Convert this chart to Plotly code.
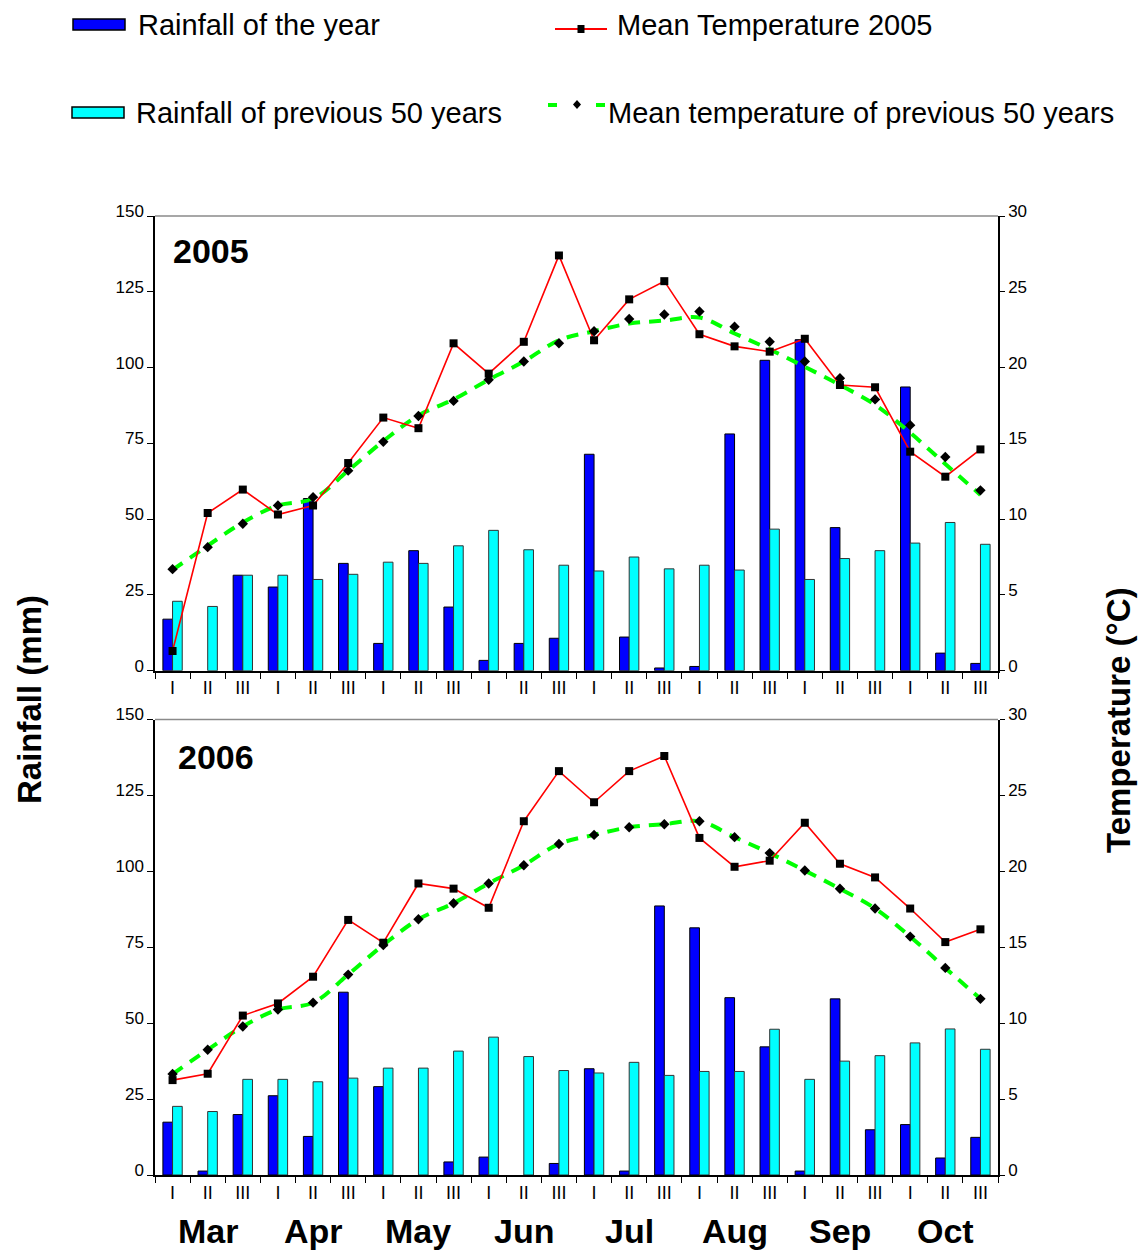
import plotly.graph_objects as go

# ---- categories ---------------------------------------------------------
dekads = ["I", "II", "III"] * 8
months = ["Mar", "Apr", "May", "Jun", "Jul", "Aug", "Sep", "Oct"]

# ---- 2005 season (ten-day periods) -------------------------------------
rain_2005 = [17.0, 0.0, 31.5, 27.6, 56.8, 35.4, 9.0, 39.6, 21.0, 3.4, 9.0, 10.7,
             71.4, 11.1, 0.9, 1.4, 78.1, 102.4, 109.2, 47.2, 0.0, 93.6, 5.8, 2.4]
rain50_2005 = [22.9, 21.2, 31.5, 31.5, 30.1, 31.8, 35.8, 35.4, 41.2, 46.3, 39.9, 34.8,
               32.9, 37.5, 33.6, 34.8, 33.2, 46.7, 30.1, 37.0, 39.6, 42.1, 48.9, 41.7]
temp_2005 = [1.3, 10.4, 11.95, 10.3, 10.9, 13.7, 16.7, 16.0, 21.6, 19.6, 21.7, 27.4,
             21.8, 24.5, 25.7, 22.2, 21.4, 21.05, 21.9, 18.85, 18.7, 14.45, 12.8, 14.6]
tmean50_2005 = [6.7, 8.15, 9.7, 10.9, 11.45, 13.2, 15.1, 16.8, 17.8, 19.2, 20.4, 21.6,
                22.4, 23.2, 23.5, 23.7, 22.7, 21.7, 20.4, 19.3, 17.9, 16.2, 14.1, 11.9]

# ---- 2006 season -------------------------------------------------------
rain_2006 = [17.4, 1.3, 19.9, 26.1, 12.7, 60.2, 29.1, 0.0, 4.3, 5.9, 0.0, 3.8,
             35.0, 1.3, 88.6, 81.4, 58.4, 42.2, 1.3, 58.0, 14.9, 16.6, 5.6, 12.4]
rain50_2006 = [22.6, 20.9, 31.5, 31.5, 30.7, 31.9, 35.2, 35.2, 40.8, 45.4, 39.0, 34.4,
               33.6, 37.1, 32.8, 34.1, 34.1, 48.0, 31.5, 37.5, 39.3, 43.5, 48.1, 41.4]
temp_2006 = [6.25, 6.67, 10.5, 11.3, 13.06, 16.8, 15.3, 19.2, 18.86, 17.6, 23.3, 26.6,
             24.55, 26.6, 27.6, 22.2, 20.3, 20.7, 23.2, 20.5, 19.6, 17.55, 15.34, 16.18]
tmean50_2006 = [6.65, 8.25, 9.78, 10.9, 11.35, 13.2, 15.15, 16.84, 17.9, 19.2, 20.4, 21.8,
                22.4, 22.9, 23.1, 23.3, 22.25, 21.2, 20.05, 18.85, 17.55, 15.7, 13.64, 11.6]

# dashed long-term temperature curve, drawn in both panels
curve50 = tmean50_2006

# ---- styling -----------------------------------------------------------
FONT = "Liberation Sans, Arial, sans-serif"
NARROW = "Liberation Sans Narrow, Arial Narrow, Liberation Sans, Arial, sans-serif"
BLUE, CYAN, RED, GREEN = "#0000FF", "#00FFFF", "#FF0000", "#00FF00"

W, H = 1144, 1257
L, R, T, B = 155, 146, 216, 82
PW, PH = W - L - R, H - T - B


def px(x):
    return (x - L) / PW


def py(y):
    return (H - B - y) / PH


def no_zero(vals):
    # dry periods get no bar at all (not even an outline)
    return [v if v > 0 else None for v in vals]


x = list(range(len(dekads)))
fig = go.Figure()


def add_panel(xa, ya_left, ya_right, rain, rain50, temp, tmean50):
    fig.add_trace(go.Bar(x=x, y=no_zero(rain), xaxis=xa, yaxis=ya_left,
                         marker=dict(color=BLUE, line=dict(color="black", width=1)),
                         showlegend=False))
    fig.add_trace(go.Bar(x=x, y=no_zero(rain50), xaxis=xa, yaxis=ya_left,
                         marker=dict(color=CYAN, line=dict(color="#333333", width=1)),
                         showlegend=False))
    fig.add_trace(go.Scatter(x=x, y=curve50, xaxis=xa, yaxis=ya_right, mode="lines",
                             line=dict(color=GREEN, width=4, dash="12px,9px", shape="spline"),
                             showlegend=False))
    fig.add_trace(go.Scatter(x=x, y=temp, xaxis=xa, yaxis=ya_right, mode="lines+markers",
                             line=dict(color=RED, width=1.6),
                             marker=dict(symbol="square", size=8, color="black"),
                             showlegend=False))
    fig.add_trace(go.Scatter(x=x, y=tmean50, xaxis=xa, yaxis=ya_right, mode="markers",
                             marker=dict(symbol="diamond", size=8, color="black"),
                             showlegend=False))


add_panel("x", "y", "y2", rain_2005, rain50_2005, temp_2005, tmean50_2005)
add_panel("x2", "y3", "y4", rain_2006, rain50_2006, temp_2006, tmean50_2006)

boundaries = [i - 0.5 for i in range(len(dekads) + 1)]
xcommon = dict(range=[-0.5, len(dekads) - 0.5], tickmode="array", tickvals=x,
               ticktext=dekads, ticks="", showline=True, linecolor="black", linewidth=2,
               showgrid=False, zeroline=False, ticklabelstandoff=0,
               tickfont=dict(family=NARROW, size=18, color="black"),
               minor=dict(tickmode="array", tickvals=boundaries, ticks="outside",
                          ticklen=6, tickwidth=1.2, tickcolor="black", showgrid=False))
left_common = dict(range=[0, 150], tickmode="linear", tick0=0, dtick=25, ticks="outside",
                   ticklen=6, tickcolor="black", showline=True, linecolor="black",
                   linewidth=1.5, showgrid=False, zeroline=False, ticklabelshift=-5,
                   tickfont=dict(family=FONT, size=17, color="black"))
right_common = dict(range=[0, 30], tickmode="linear", tick0=0, dtick=5, ticks="outside",
                    ticklen=5, tickcolor="black", showline=True, linecolor="black",
                    linewidth=1.5, showgrid=False, zeroline=False, ticklabelshift=-5,
                    side="right", tickfont=dict(family=FONT, size=17, color="black"))
inner_right = dict(range=[0, 30], tickmode="linear", tick0=0, dtick=5, ticks="inside",
                   ticklen=5, tickcolor="black", showline=False, showgrid=False,
                   zeroline=False, showticklabels=False, side="right")

top_dom = [py(670.7), 1.0]
bot_dom = [0.0, py(719.5)]

fig.update_layout(
    width=W, height=H,
    margin=dict(l=L, r=R, t=T, b=B),
    paper_bgcolor="white", plot_bgcolor="white",
    font=dict(family=FONT, color="black"),
    barmode="group", bargap=0.45, bargroupgap=0.0,
    showlegend=False,
    xaxis=dict(domain=[0, 1], anchor="y", **xcommon),
    xaxis2=dict(domain=[0, 1], anchor="y3", **xcommon),
    yaxis=dict(domain=top_dom, anchor="x", **left_common),
    yaxis2=dict(overlaying="y", anchor="x", **right_common),
    yaxis3=dict(domain=bot_dom, anchor="x2", **left_common),
    yaxis4=dict(overlaying="y3", anchor="x2", **right_common),
    yaxis5=dict(overlaying="y", anchor="x", **inner_right),
    yaxis6=dict(overlaying="y3", anchor="x2", **inner_right),
)

shapes = []
# grey frame line along the top of each panel
for xr, yr in (("x domain", "y domain"), ("x2 domain", "y3 domain")):
    shapes.append(dict(type="line", xref=xr, yref=yr, x0=0, x1=1, y0=1, y1=1,
                       line=dict(color="#8a8a8a", width=1.5)))

# ---- legend (drawn by hand in page space) -----------------------------
shapes.append(dict(type="rect", xref="paper", yref="paper", x0=px(73), x1=px(125),
                   y0=py(30), y1=py(19), fillcolor=BLUE, line=dict(color="black", width=1.5)))
shapes.append(dict(type="rect", xref="paper", yref="paper", x0=px(72), x1=px(124),
                   y0=py(118), y1=py(107), fillcolor=CYAN, line=dict(color="black", width=1.5)))
shapes.append(dict(type="line", xref="paper", yref="paper", x0=px(555), x1=px(607),
                   y0=py(29), y1=py(29), line=dict(color=RED, width=2)))
shapes.append(dict(type="rect", xref="paper", yref="paper", x0=px(577.5), x1=px(584.5),
                   y0=py(33), y1=py(25), fillcolor="black", line=dict(width=0)))
for a, b in ((548, 557), (596, 605)):
    shapes.append(dict(type="line", xref="paper", yref="paper", x0=px(a), x1=px(b),
                       y0=py(105), y1=py(105), line=dict(color=GREEN, width=4)))
shapes.append(dict(type="path", xref="paper", yref="paper",
                   path="M {} {} L {} {} L {} {} L {} {} Z".format(
                       px(577), py(100), px(581), py(104.5), px(577), py(109), px(573), py(104.5)),
                   fillcolor="black", line=dict(width=0)))

annotations = []


def text(s, xp, yp, size, bold=False, xanchor="left", angle=0, xref="paper"):
    annotations.append(dict(text="<b>%s</b>" % s if bold else s, x=xp, y=yp,
                            xref=xref, yref="paper", xanchor=xanchor, yanchor="middle",
                            textangle=angle, showarrow=False,
                            font=dict(family=FONT, size=size, color="black")))


text("Rainfall of the year", px(136), py(25), 29)
text("Mean Temperature 2005", px(615), py(25), 29)
text("Rainfall of previous 50 years", px(134), py(113), 29)
text("Mean temperature of previous 50 years", px(606), py(113), 29)

text("2005", px(171), py(251), 34, bold=True)
text("2006", px(176), py(757), 34, bold=True)

text("Rainfall (mm)", px(29), py(700), 33, bold=True, xanchor="center", angle=-90)
text("Temperature (°C)", px(1118), py(720), 33, bold=True, xanchor="center", angle=-90)

for i, m in enumerate(months):
    text(m, 3 * i + 1, py(1231), 34, bold=True, xanchor="center", xref="x2")

fig.update_layout(shapes=shapes, annotations=annotations)

fig.write_html("out.html")
